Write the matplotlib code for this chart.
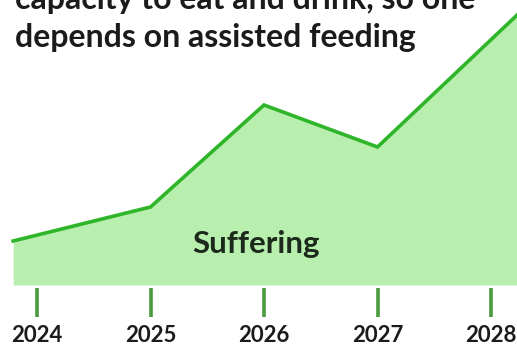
import matplotlib.pyplot as plt

# suffering level over time (arbitrary units)
years = [2023.79, 2025, 2026, 2027, 2028.23]
level = [44, 78, 180, 138, 270]
tick_years = [2024, 2025, 2026, 2027, 2028]
tick_labels = ['2024', '2025', '2026', '2027', '2028']

plt.rcParams['font.family'] = ['Lato', 'DejaVu Sans']

fig = plt.figure(figsize=(5.17, 3.47), dpi=100)
ax = fig.add_axes([0, 0, 1, 1])
ax.set_xlim(2023.674, 2028.229)
ax.set_ylim(-62, 285)
ax.axis('off')

ax.fill_between(years, level, 0, color='#b8efae', lw=0)
ax.plot(years, level, color='#2fb52a', lw=2.6, solid_joinstyle='miter')

ax.vlines(tick_years, -3, -32, color='#4a9a3e', lw=2.6)
for x, t in zip(tick_years, tick_labels):
    ax.text(x, -57.5, t, ha='center', va='baseline', fontsize=16,
            fontweight='bold', color='#1b1b1b')

ax.text(2025.93, 32, 'Suffering', ha='center', va='baseline', fontsize=22.5,
        fontweight='bold', color='#1c2a1c')

fig.text(15/517, 1 - 9/347, 'capacity to eat and drink, so one', ha='left',
         va='baseline', fontsize=23, fontweight='bold', color='#1b1b1b')
fig.text(15/517, 1 - 47/347, 'depends on assisted feeding', ha='left',
         va='baseline', fontsize=23, fontweight='bold', color='#1b1b1b')

fig.savefig('out.png', dpi=100)
